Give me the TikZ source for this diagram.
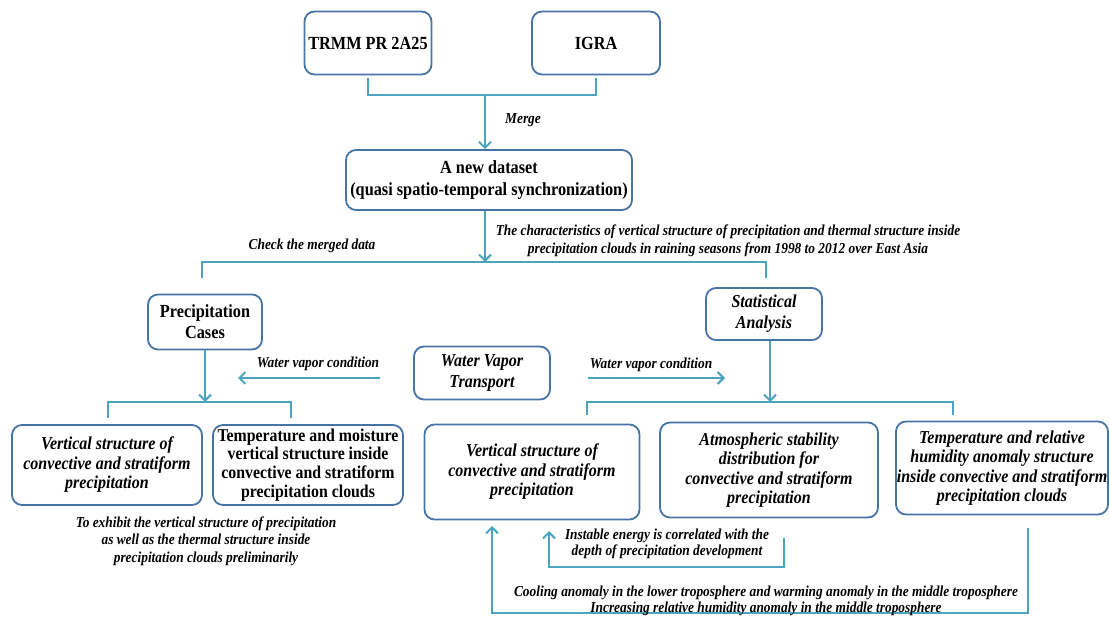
\documentclass[tikz,border=0pt]{standalone}
\usepackage{fontspec}
\setmainfont{Liberation Serif}[FakeStretch=0.88]
\usetikzlibrary{arrows.meta}

\definecolor{linkteal}{RGB}{75,165,190}
\definecolor{boxblue}{RGB}{72,115,165}

\tikzset{
  box/.style={draw=boxblue,line width=1.8pt,rounded corners=10pt,fill=white,align=center,inner sep=0pt},
  btext/.style={font=\fontsize{18.5}{21}\selectfont\bfseries},
  itext/.style={font=\fontsize{18.2}{19.5}\selectfont\bfseries\itshape},
  link/.style={draw=linkteal,line width=2pt},
  arr/.style={link,-{Straight Barb[length=6pt,width=12pt,line width=2pt]}},
  note/.style={font=\fontsize{15.2}{17.5}\selectfont\bfseries\itshape,align=center,inner sep=0pt},
}

\begin{document}
\begin{tikzpicture}[x=1pt,y=-1pt]
\path[use as bounding box] (0,0) rectangle (1110,617);

% data sources
\node[box,btext,minimum width=127,minimum height=63] (trmm) at (368,43) {TRMM PR 2A25};
\node[box,btext,minimum width=128,minimum height=63] (igra) at (596,43) {IGRA};
\coordinate (merge) at (485,95);
\draw[link] ([yshift=-3pt]trmm.south) |- (merge) -| ([yshift=-3pt]igra.south);
\node[box,btext,minimum width=286,minimum height=60,font=\fontsize{18.5}{22}\selectfont\bfseries] (dataset) at (489,180)
  {A new dataset\\(quasi spatio-temporal synchronization)};
\draw[arr] (merge) -- (dataset.north -| merge);
\node[note] (mergenote) at (523,120) {Merge};

% first split
\coordinate (split) at (485,262);
\coordinate (chkL) at (202,278);
\coordinate (chkR) at (766,278);
\draw[arr] (dataset.south -| split) -- (split);
\draw[link] (chkL) |- (split) -| (chkR);
\node[note] (chknote) at (312,246) {Check the merged data};
\node[note] (charnote) at (728,241) {The characteristics of vertical structure of precipitation and thermal structure inside\\
  precipitation clouds in raining seasons from 1998 to 2012 over East Asia};

% middle row
\node[box,btext,minimum width=114,minimum height=55] (cases) at (205,322) {Precipitation\\Cases};
\node[box,itext,minimum width=116,minimum height=52,font=\fontsize{18.2}{21}\selectfont\bfseries\itshape] (stat) at (764,314) {Statistical\\Analysis};
\node[box,itext,minimum width=136,minimum height=53,font=\fontsize{18.2}{21}\selectfont\bfseries\itshape] (wvt) at (482,373) {Water Vapor\\Transport};
\coordinate (wvLs) at (380,378);
\coordinate (wvLe) at (238,378);
\coordinate (wvRs) at (588,378);
\coordinate (wvRe) at (725,378);
\draw[arr] (wvLs) -- (wvLe);
\draw[arr] (wvRs) -- (wvRe);
\node[note] (wvLnote) at (318,364) {Water vapor condition};
\node[note] (wvRnote) at (651,365) {Water vapor condition};

% lower splits
\coordinate (lsplit) at (205,402);
\coordinate (lL) at (108,418);
\coordinate (lR) at (291,418);
\draw[arr] (cases.south) -- (lsplit);
\draw[link] (lL) |- (lsplit) -| (lR);
\coordinate (rsplit) at (770,402);
\coordinate (rL) at (587,415);
\coordinate (rR) at (953,415);
\draw[arr] (stat.south -| rsplit) -- (rsplit);
\draw[link] (rL) |- (rsplit) -| (rR);

% bottom row
\node[box,itext,minimum width=190,minimum height=80] (vsl) at (107,465)
  {Vertical structure of\\convective and stratiform\\precipitation};
\node[box,btext,minimum width=190,minimum height=80,font=\fontsize{18}{18.7}\selectfont\bfseries] (tml) at (308,465)
  {Temperature and moisture\\vertical structure inside\\convective and stratiform\\precipitation clouds};
\node[note] (exhnote) at (206,541) {To exhibit the vertical structure of precipitation\\
  as well as the thermal structure inside\\precipitation clouds preliminarily};
\node[box,itext,minimum width=215,minimum height=95] (vsr) at (532,472)
  {Vertical structure of\\convective and stratiform\\precipitation};
\node[box,itext,minimum width=218,minimum height=95] (asd) at (769,470)
  {Atmospheric stability\\distribution for\\convective and stratiform\\precipitation};
\node[box,itext,minimum width=212,minimum height=93] (tra) at (1002,468)
  {Temperature and relative\\humidity anomaly structure\\inside convective and stratiform\\precipitation clouds};

% feedback
\coordinate (insStart) at (784,538);
\coordinate (insEnd) at (549,531);
\draw[arr] (insStart) -- ++(0,29) -| (insEnd);
\node[note,font=\fontsize{15.2}{15.5}\selectfont\bfseries\itshape] (insnote) at (667,544)
  {Instable energy is correlated with the\\depth of precipitation development};
\coordinate (coolStart) at (1028,528);
\coordinate (coolEnd) at (492,526);
\draw[arr] (coolStart) -- ++(0,85) -| (coolEnd);
\node[note,font=\fontsize{15.2}{15.5}\selectfont\bfseries\itshape] (coolnote) at (766,601)
  {Cooling anomaly in the lower troposphere and warming anomaly in the middle troposphere\\
  Increasing relative humidity anomaly in the middle troposphere};
\end{tikzpicture}
\end{document}
